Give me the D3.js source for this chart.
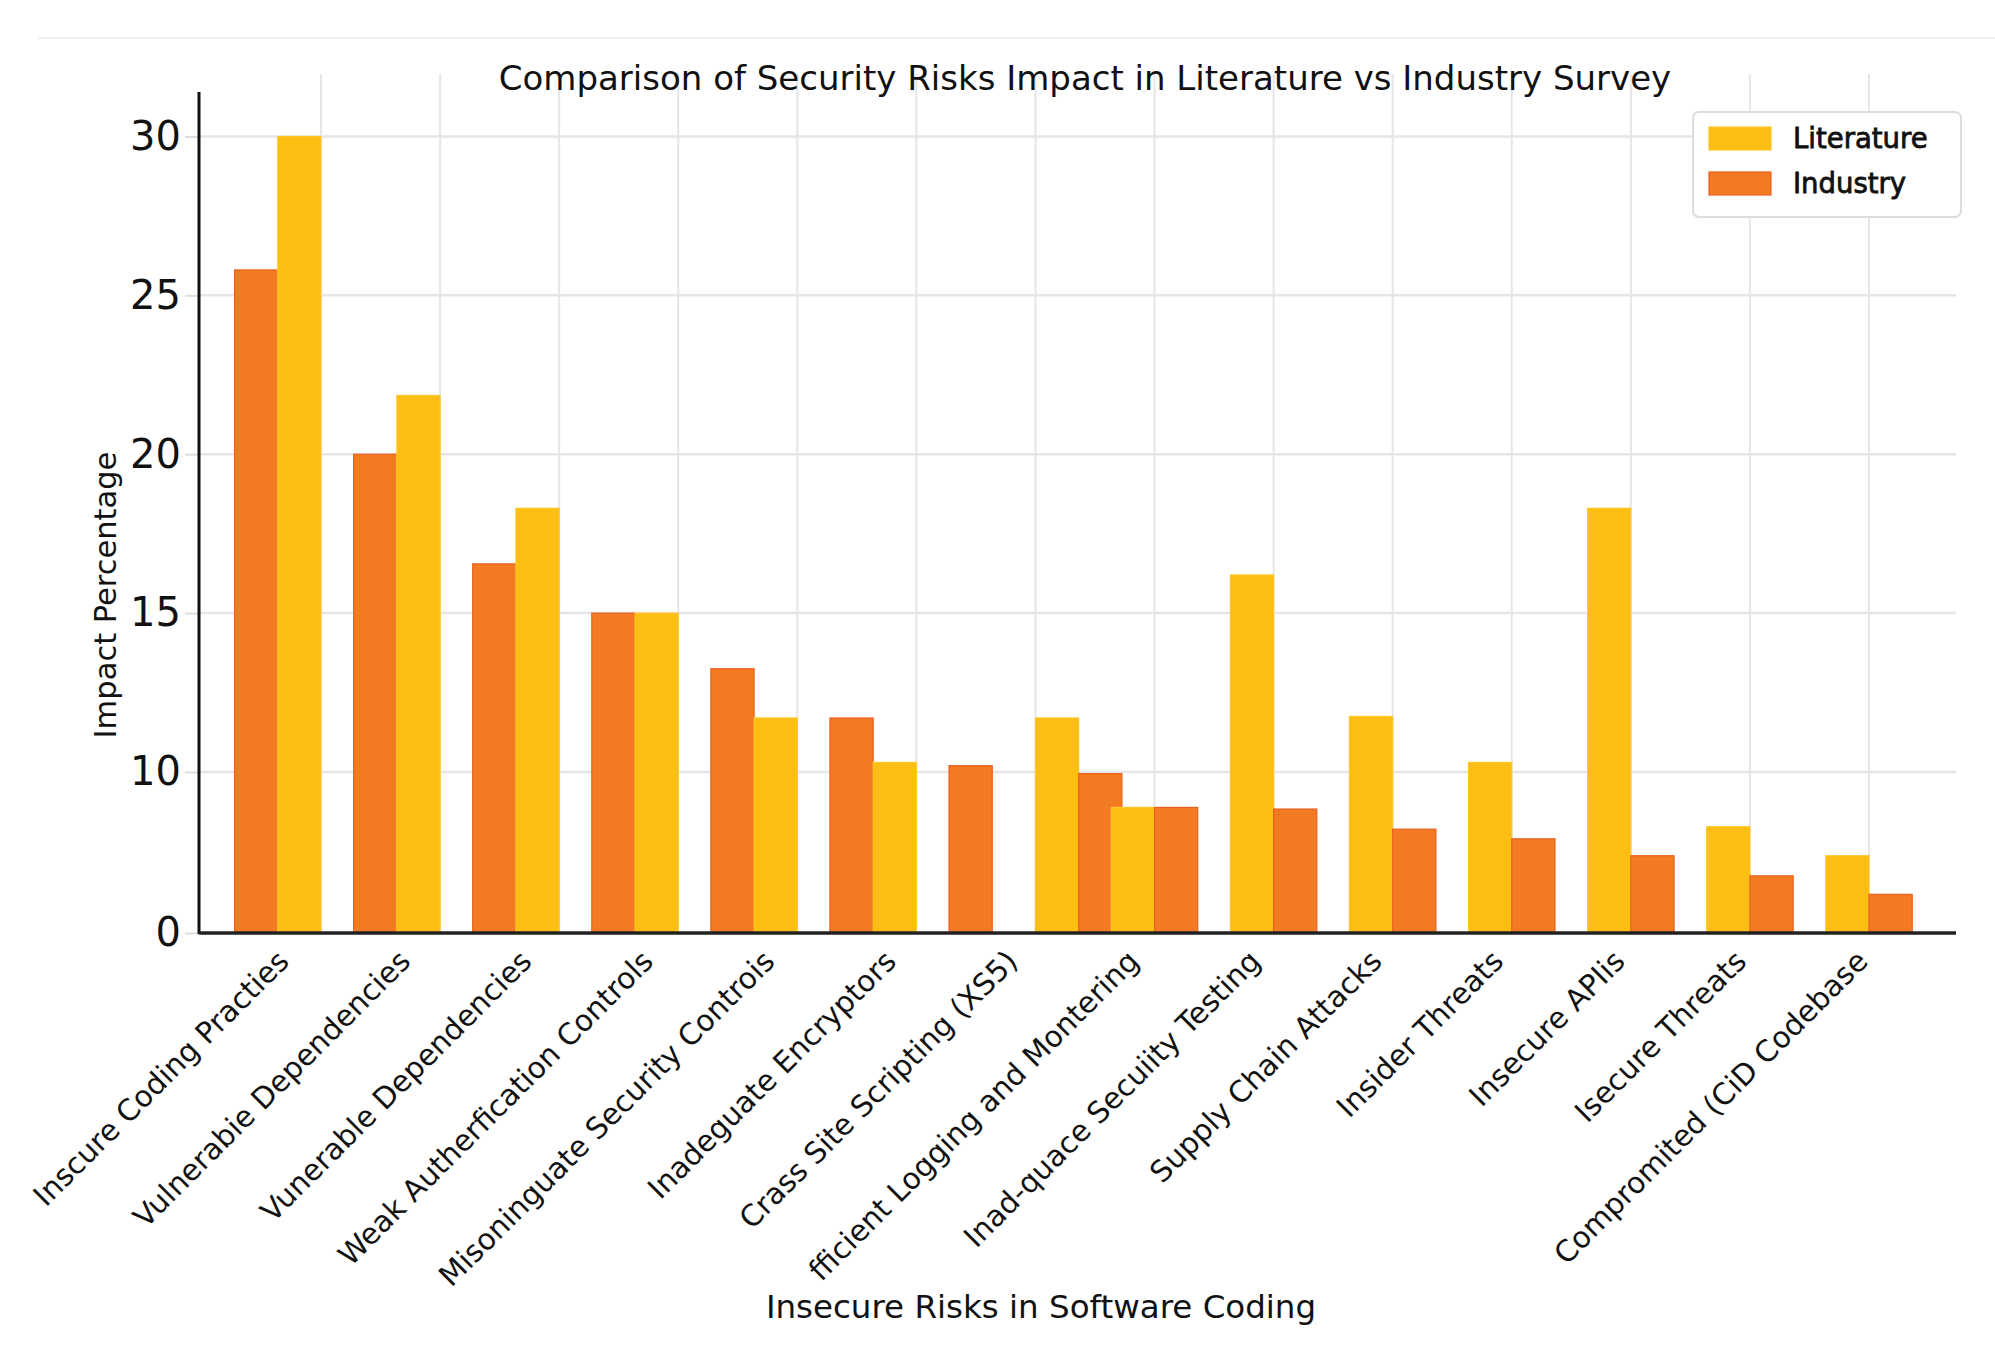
<!DOCTYPE html>
<html>
<head>
<meta charset="utf-8">
<script src="https://cdn.jsdelivr.net/npm/d3@7"></script>
<style>
  html, body { margin: 0; padding: 0; background: #fff; }
  svg { display: block; font-family: "DejaVu Sans", sans-serif; }
</style>
</head>
<body>
<svg id="chart"></svg>
<script>
const width = 1995;
const height = 1349;

// Tick labels under the x axis, spelled as printed
const categories = [
    "Inscure Coding Practies",
    "Vulnerabie Dependencies",
    "Vunerable Dependencies",
    "Weak Autherfication Controls",
    "Misoninguate Security Controis",
    "Inadeguate Encryptors",
    "Crass Site Scripting (XS5)",
    "fficient Logging and Montering",
    "Inad-quace Secuiity Testing",
    "Supply Chain Attacks",
    "Insider Threats",
    "Insecure APIis",
    "Isecure Threats",
    "Compromited (CiD Codebase"
];

// Bar groups left to right (the picture shows 15 groups for 14 labels)
const literature = [30, 21.85, 18.3, 15, 11.7, 10.3, 0, 11.7, 7.8, 16.2, 11.75, 10.3, 18.3, 6.6, 4.8];
const industry   = [25.8, 20, 16.55, 15, 13.25, 11.7, 10.2, 9.9, 7.8, 7.7, 6.45, 5.85, 4.8, 3.55, 2.4];

const seriesNames = ["Literature", "Industry"];
const yTicks = [0, 10, 15, 20, 25, 30];

const colors = { Literature: "#FDBE14", Industry: "#F27A22" };
const edges  = { Literature: "#FFC62A", Industry: "#E9611E" };

// Plot frame
const plotLeft = 199, plotRight = 1956, plotTop = 92, plotBottom = 933;

const svg = d3.select("#chart")
    .attr("width", width)
    .attr("height", height);

svg.append("rect")
    .attr("width", width)
    .attr("height", height)
    .attr("fill", "#fff");

// faint line across the top of the figure
svg.append("line")
    .attr("x1", 38).attr("x2", width)
    .attr("y1", 38).attr("y2", 38)
    .attr("stroke", "#f1f1f1")
    .attr("stroke-width", 2);

// x in "tick units": label tick k sits at k
const x = d3.scaleLinear()
    .domain([1, 14])
    .range([321, 1869]);

// the printed axis jumps from 0 straight to 10, so the scale is piecewise
const y = d3.scaleLinear()
    .domain([0, 10, 31.4])
    .range([plotBottom, 772, plotTop]);

const bw = x(1.363) - x(1);

// Grid
svg.append("g")
    .selectAll("line")
    .data(d3.range(1, 15))
    .enter().append("line")
    .attr("x1", d => x(d)).attr("x2", d => x(d))
    .attr("y1", 74).attr("y2", plotBottom)
    .attr("stroke", "#e6e6e6")
    .attr("stroke-width", 2);

svg.append("g")
    .selectAll("line")
    .data(yTicks.filter(d => d > 0))
    .enter().append("line")
    .attr("x1", plotLeft).attr("x2", plotRight)
    .attr("y1", d => y(d)).attr("y2", d => y(d))
    .attr("stroke", "#e6e6e6")
    .attr("stroke-width", 2.5);

// Group placement: first seven end on their tick (Industry first),
// the eighth starts on tick 7, the rest are centred on a tick (Literature first)
const groupTick = [1, 2, 3, 4, 5, 6, 7, 7, 8, 9, 10, 11, 12, 13, 14];
const groupShift = [-2, -2, -2, -2, -2, -2, -2, 0, -1, -1, -1, -1, -1, -1, -1];

const bars = [];
literature.forEach((v, g) => {
    const order = g < 7 ? ["Industry", "Literature"] : ["Literature", "Industry"];
    order.forEach((name, j) => {
        const value = name === "Literature" ? literature[g] : industry[g];
        if (value > 0) bars.push({ g, name, value, slot: groupShift[g] + j });
    });
});

svg.append("g")
    .selectAll("rect")
    .data(bars)
    .enter().append("rect")
    .attr("x", d => x(groupTick[d.g]) + d.slot * bw)
    .attr("y", d => y(d.value))
    .attr("width", bw)
    .attr("height", d => y(0) - y(d.value))
    .attr("fill", d => colors[d.name])
    .attr("stroke", d => edges[d.name])
    .attr("stroke-width", 1.2);

// Y axis
const yAxis = svg.append("g")
    .attr("transform", `translate(${plotLeft},0)`)
    .call(d3.axisLeft(y).tickValues(yTicks).tickSize(14).tickPadding(4));
yAxis.select(".domain").remove();
yAxis.selectAll(".tick line").attr("stroke", "#dddddd").attr("stroke-width", 2);
yAxis.selectAll(".tick text")
    .attr("fill", "#111")
    .style("font-size", "40px")
    .style("font-family", "'DejaVu Sans', sans-serif");

// spines
svg.append("line")
    .attr("x1", plotLeft).attr("x2", plotLeft)
    .attr("y1", plotTop).attr("y2", plotBottom + 1)
    .attr("stroke", "#111")
    .attr("stroke-width", 3);

svg.append("line")
    .attr("x1", plotLeft).attr("x2", plotRight)
    .attr("y1", plotBottom).attr("y2", plotBottom)
    .attr("stroke", "#222")
    .attr("stroke-width", 3.5);

// X tick labels (they drift slightly left of the ticks, as in the picture)
const lx = d3.scaleLinear()
    .domain([0, categories.length - 1])
    .range([x(0.74), x(14)]);

const xAxis = svg.append("g")
    .attr("transform", `translate(0,${plotBottom + 30})`)
    .call(d3.axisBottom(lx)
        .tickValues(d3.range(categories.length))
        .tickFormat(i => categories[i])
        .tickSize(0));
xAxis.select(".domain").remove();
xAxis.selectAll(".tick text")
    .attr("x", 0)
    .attr("y", 0)
    .attr("dy", 0)
    .attr("text-anchor", "end")
    .attr("transform", "rotate(-45)")
    .attr("fill", "#111")
    .style("font-size", "29.5px")
    .style("font-family", "'DejaVu Sans', sans-serif");

// Titles
svg.append("text")
    .attr("x", 1085)
    .attr("y", 90)
    .attr("text-anchor", "middle")
    .style("font-size", "34px")
    .attr("fill", "#111")
    .text("Comparison of Security Risks Impact in Literature vs Industry Survey");

svg.append("text")
    .attr("x", 1041)
    .attr("y", 1318)
    .attr("text-anchor", "middle")
    .style("font-size", "32.5px")
    .attr("fill", "#111")
    .text("Insecure Risks in Software Coding");

svg.append("text")
    .attr("transform", "translate(116,595) rotate(-90)")
    .attr("text-anchor", "middle")
    .style("font-size", "30.5px")
    .attr("fill", "#111")
    .text("Impact Percentage");

// Legend
const legend = svg.append("g")
    .attr("transform", "translate(1693,112)");

legend.append("rect")
    .attr("width", 268)
    .attr("height", 105)
    .attr("rx", 6)
    .attr("fill", "#fff")
    .attr("stroke", "#dcdcdc")
    .attr("stroke-width", 2);

const item = legend.selectAll(".item")
    .data(seriesNames)
    .enter().append("g")
    .attr("transform", (d, i) => `translate(16,${15 + i * 45})`);

item.append("rect")
    .attr("width", 62)
    .attr("height", 23)
    .attr("fill", d => colors[d])
    .attr("stroke", d => edges[d])
    .attr("stroke-width", 1.2);

item.append("text")
    .attr("x", 84)
    .attr("y", 21)
    .style("font-size", "27.5px")
    .attr("fill", "#111")
    .attr("stroke", "#111")
    .attr("stroke-width", 0.8)
    .text(d => d);
</script>
</body>
</html>
